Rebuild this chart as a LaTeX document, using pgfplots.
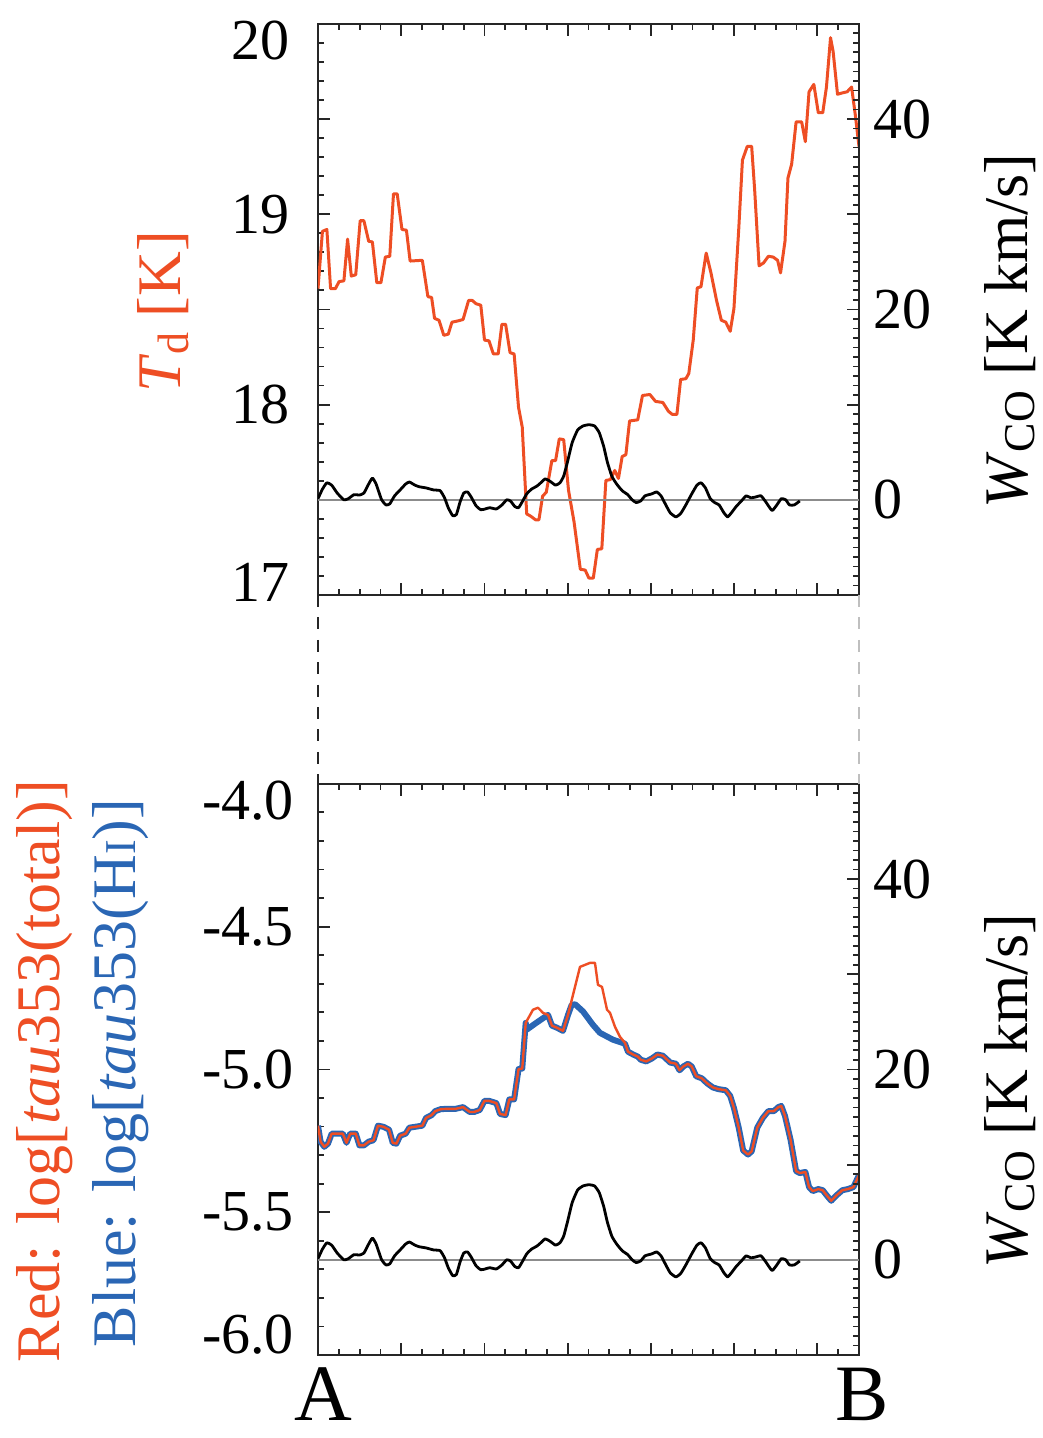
\documentclass[border=0pt]{standalone}
\usepackage{fontspec}
\setmainfont{Liberation Serif}
\usepackage{pgfplots}
\pgfplotsset{compat=1.18}
\definecolor{tdred}{RGB}{238,78,36}
\definecolor{tblue}{RGB}{42,102,180}
\pgfplotsset{
  panel/.style={scale only axis, width=135.25pt, height=142.8pt,
    xmin=0, xmax=130, xtick={0,20,...,120}, minor xtick={0,5,...,130}, xticklabels={},
    axis line style={line width=0.5pt, black!85},
    every tick/.append style={black!85, line width=0.45pt},
    major tick length=3pt, minor tick length=1.5pt, tick align=inside,
    ticklabel style={font=\fontsize{14.5}{17}\selectfont},
  },
  rightpanel/.style={panel, hide x axis, axis y line*=right, ymin=-10, ymax=50,
    ytick={-10,0,...,50}, yticklabels={,0,,20,,40,}, minor ytick={-10,-9,...,50},
    yticklabel style={xshift=0pt}},
}
\begin{document}
\begin{tikzpicture}
\useasboundingbox (-79.5pt,-210.75pt) rectangle (181pt,148.75pt);
% ---------------- top panel: Td ----------------
\begin{axis}[panel, at={(0,0)}, anchor=south west,
  ymin=17, ymax=20, ytick={17,17.5,...,20}, ytick pos=left,
  yticklabels={\raisebox{-1.6pt}[0pt][0pt]{17},,18,,19,,\raisebox{-9pt}[0pt][0pt]{20}},
  minor ytick={17,17.1,...,20},
  yticklabel style={xshift=-3.5pt}]
\addplot[tdred, line width=0.75pt, line join=round] coordinates {
(0,18.609)(1.067,18.910)(2.134,18.920)(3.023,18.609)(4.179,18.609)(5.068,18.646)(6.224,18.650)(7.114,18.869)(8.003,18.675)(9.07,18.682)(10.137,18.966)(11.026,18.966)(12.182,18.858)(13.071,18.854)(14.138,18.640)(15.116,18.640)(16.183,18.775)(17.25,18.779)(18.14,19.107)(19.03,19.107)(20.18,18.920)(21.25,18.916)(22.14,18.754)(25.07,18.758)(26.41,18.567)(27.30,18.563)(28.01,18.453)(29.08,18.443)(30.23,18.364)(31.30,18.370)(32.19,18.433)(33.52,18.439)(34.86,18.447)(36.19,18.547)(37.08,18.547)(37.97,18.530)(39.12,18.522)(40.01,18.339)(41.08,18.335)(42.15,18.266)(43.30,18.266)(44.19,18.422)(45.08,18.422)(46.15,18.273)(47.13,18.266)(48.19,17.986)(49.08,17.882)(50.15,17.426)(51.04,17.415)(52.28,17.395)(53.09,17.395)(53.97,17.519)(54.86,17.540)(56.20,17.706)(57.09,17.706)(57.98,17.820)(59.04,17.816)(60.20,17.550)(61.53,17.384)(63.04,17.135)(64.20,17.131)(65.09,17.089)(66.16,17.089)(67.13,17.239)(68.20,17.243)(69.18,17.602)(70.25,17.606)(71.31,17.654)(72.20,17.612)(73.09,17.727)(73.98,17.737)(74.87,17.914)(76.83,17.920)(77.98,18.048)(79.76,18.053)(81.10,18.017)(82.87,18.011)(84.21,17.965)(85.10,17.949)(86.25,17.949)(87.14,18.132)(88.39,18.136)(89.10,18.163)(90.17,18.339)(91.14,18.613)(92.03,18.619)(93.28,18.796)(94.43,18.692)(95.77,18.547)(96.92,18.443)(97.99,18.433)(99.06,18.385)(99.95,18.505)(101.10,18.920)(101.99,19.284)(103.15,19.356)(104.21,19.356)(104.93,19.128)(105.99,18.729)(107.06,18.744)(108.22,18.779)(109.37,18.775)(110.44,18.758)(111.15,18.692)(112.22,18.858)(112.93,19.190)(113.82,19.263)(114.89,19.485)(116.22,19.485)(117.11,19.381)(118.00,19.643)(119.15,19.682)(120.22,19.533)(121.29,19.533)(122.18,19.668)(123.16,19.927)(123.78,19.855)(124.84,19.630)(125.99,19.637)(127.16,19.643)(128.22,19.668)(129.11,19.522)(130.0,19.356)
};
\end{axis}
\begin{axis}[rightpanel, at={(0,0)}, anchor=south west]
\addplot[black!45, line width=0.35pt] coordinates {(0,0)(130,0)};
\addplot[black, line width=0.7pt, line join=round, smooth, tension=0.3] coordinates {
(0,0.12)(1.07,1.12)(2.13,1.79)(3.29,1.54)(4.62,0.71)(6.22,0)(7.29,0.12)(8.63,0.54)(9.96,0.50)(11.03,0.71)(12.18,1.66)(13.07,2.28)(13.96,1.66)(15.29,0)(16.36,-0.54)(17.25,-0.42)(18.41,0.42)(19.74,1.04)(21.07,1.66)(21.96,1.87)(23.30,1.54)(24.36,1.37)(25.96,1.25)(27.74,1.04)(29.35,0.96)(30.41,0.21)(31.30,-0.83)(32.37,-1.66)(33.26,-1.54)(34.15,-0.21)(35.03,0.71)(35.92,0.83)(36.81,0.29)(37.97,-0.62)(39.12,-1.04)(40.19,-0.96)(41.26,-0.83)(42.86,-0.96)(44.19,-0.54)(45.35,0)(46.24,-0.12)(47.31,-0.71)(48.19,-0.83)(49.08,-0.21)(50.15,0.62)(51.31,1.12)(52.64,1.45)(53.53,1.79)(54.60,2.20)(55.75,1.95)(57.09,1.54)(58.15,1.79)(59.04,2.49)(59.93,3.95)(61.09,6.02)(62.42,7.35)(63.76,7.77)(65.09,7.89)(66.43,7.77)(67.58,7.06)(68.65,5.61)(69.54,3.95)(70.60,2.49)(71.76,1.66)(73.09,0.96)(74.43,0.54)(75.49,0)(76.47,-0.29)(77.54,-0.12)(78.60,0.42)(80.20,0.62)(81.36,0.83)(82.43,0.42)(83.58,-0.54)(84.65,-1.37)(85.99,-1.79)(87.14,-1.45)(88.39,-0.54)(89.81,0.62)(91.06,1.54)(92.03,1.79)(93.10,1.25)(94.26,0.12)(95.32,-0.29)(96.39,-0.54)(97.55,-1.37)(98.44,-1.79)(99.33,-1.37)(100.48,-0.71)(101.99,0)(102.88,0.42)(104.04,0.21)(105.10,0.29)(106.44,0.42)(107.59,-0.21)(109.10,-1.12)(110.26,-0.54)(111.33,0.12)(112.40,0)(113.28,-0.54)(114.44,-0.54)(115.78,-0.12)
};
\end{axis}
% ---------------- bottom panel: tau ----------------
\begin{axis}[panel, at={(0,-190pt)}, anchor=south west,
  ymin=-6, ymax=-4, ytick={-6,-5.5,...,-4}, ytick pos=left,
  yticklabels={\raisebox{0.4pt}[0pt][0pt]{-6.0},-5.5,-5.0,-4.5,\raisebox{-9pt}[0pt][0pt]{-4.0}},
  minor ytick={-6,-5.9,...,-4},
  yticklabel style={xshift=-2.5pt}]
\addplot[tblue, line width=1.5pt, line join=round] coordinates {
(0,-5.197)(0.62,-5.253)(1.51,-5.271)(2.40,-5.260)(3.29,-5.225)(4.62,-5.225)(5.96,-5.225)(6.85,-5.257)(7.74,-5.225)(9.07,-5.225)(9.96,-5.266)(11.03,-5.266)(12.18,-5.253)(13.34,-5.248)(14.41,-5.197)(15.74,-5.201)(17.07,-5.211)(17.96,-5.257)(18.85,-5.260)(19.74,-5.232)(21.07,-5.225)(21.96,-5.204)(23.30,-5.201)(25.08,-5.197)(25.96,-5.170)(27.30,-5.160)(28.19,-5.146)(29.52,-5.139)(31.30,-5.138)(33.08,-5.138)(34.86,-5.132)(36.46,-5.149)(37.52,-5.149)(38.86,-5.142)(40.01,-5.110)(41.08,-5.110)(42.86,-5.118)(43.75,-5.156)(45.08,-5.160)(45.97,-5.105)(47.13,-5.105)(48.19,-4.999)(49.08,-4.997)(49.91,-4.837)(50.15,-4.861)(52.15,-4.840)(54.55,-4.816)(55.27,-4.809)(56.23,-4.847)(57.43,-4.854)(58.87,-4.865)(60.08,-4.809)(60.96,-4.774)(61.8,-4.772)(63.68,-4.797)(66.08,-4.844)(67.76,-4.872)(70.89,-4.896)(73.77,-4.910)(74.49,-4.938)(75.76,-4.948)(76.83,-4.955)(77.54,-4.966)(78.87,-4.972)(80.20,-4.962)(81.54,-4.948)(82.87,-4.952)(84.65,-4.976)(85.99,-4.980)(86.87,-5.003)(87.76,-4.990)(88.92,-4.980)(89.81,-4.990)(90.88,-5.024)(92.21,-5.031)(93.54,-5.049)(94.88,-5.063)(96.21,-5.069)(97.99,-5.073)(99.06,-5.093)(99.95,-5.135)(101.10,-5.204)(102.17,-5.284)(103.33,-5.298)(104.21,-5.287)(105.55,-5.204)(106.88,-5.170)(108.22,-5.146)(109.55,-5.146)(110.62,-5.132)(111.33,-5.128)(112.22,-5.163)(113.55,-5.246)(114.89,-5.356)(115.78,-5.363)(117.11,-5.359)(118.00,-5.412)(118.89,-5.426)(120.22,-5.419)(121.29,-5.423)(122.18,-5.440)(123.33,-5.460)(124.67,-5.440)(126.00,-5.423)(127.33,-5.419)(128.67,-5.412)(130,-5.370)
};
\addplot[tdred, line width=0.6pt, line join=round] coordinates {
(0,-5.197)(0.62,-5.253)(1.51,-5.271)(2.40,-5.260)(3.29,-5.225)(4.62,-5.225)(5.96,-5.225)(6.85,-5.257)(7.74,-5.225)(9.07,-5.225)(9.96,-5.266)(11.03,-5.266)(12.18,-5.253)(13.34,-5.248)(14.41,-5.197)(15.74,-5.201)(17.07,-5.211)(17.96,-5.257)(18.85,-5.260)(19.74,-5.232)(21.07,-5.225)(21.96,-5.204)(23.30,-5.201)(25.08,-5.197)(25.96,-5.170)(27.30,-5.160)(28.19,-5.146)(29.52,-5.139)(31.30,-5.138)(33.08,-5.138)(34.86,-5.132)(36.46,-5.149)(37.52,-5.149)(38.86,-5.142)(40.01,-5.110)(41.08,-5.110)(42.86,-5.118)(43.75,-5.156)(45.08,-5.160)(45.97,-5.105)(47.13,-5.105)(48.19,-4.999)(49.08,-4.997)(49.91,-4.837)(51.66,-4.791)(52.87,-4.784)(54.07,-4.802)(55.27,-4.809)(56.23,-4.847)(57.43,-4.854)(58.87,-4.865)(60.08,-4.809)(62.96,-4.641)(65.36,-4.627)(66.56,-4.627)(67.28,-4.704)(68.25,-4.711)(69.45,-4.791)(70.17,-4.802)(71.37,-4.851)(72.57,-4.886)(73.77,-4.907)(74.49,-4.938)(75.76,-4.948)(76.83,-4.955)(77.54,-4.966)(78.87,-4.972)(80.20,-4.962)(81.54,-4.948)(82.87,-4.952)(84.65,-4.976)(85.99,-4.980)(86.87,-5.003)(87.76,-4.990)(88.92,-4.980)(89.81,-4.990)(90.88,-5.024)(92.21,-5.031)(93.54,-5.049)(94.88,-5.063)(96.21,-5.069)(97.99,-5.073)(99.06,-5.093)(99.95,-5.135)(101.10,-5.204)(102.17,-5.284)(103.33,-5.298)(104.21,-5.287)(105.55,-5.204)(106.88,-5.170)(108.22,-5.146)(109.55,-5.146)(110.62,-5.132)(111.33,-5.128)(112.22,-5.163)(113.55,-5.246)(114.89,-5.356)(115.78,-5.363)(117.11,-5.359)(118.00,-5.412)(118.89,-5.426)(120.22,-5.419)(121.29,-5.423)(122.18,-5.440)(123.33,-5.460)(124.67,-5.440)(126.00,-5.423)(127.33,-5.419)(128.67,-5.412)(130,-5.370)
};
\end{axis}
\begin{axis}[rightpanel, at={(0,-190pt)}, anchor=south west]
\addplot[black!45, line width=0.35pt] coordinates {(0,0)(130,0)};
\addplot[black, line width=0.7pt, line join=round, smooth, tension=0.3] coordinates {
(0,0.12)(1.07,1.12)(2.13,1.79)(3.29,1.54)(4.62,0.71)(6.22,0)(7.29,0.12)(8.63,0.54)(9.96,0.50)(11.03,0.71)(12.18,1.66)(13.07,2.28)(13.96,1.66)(15.29,0)(16.36,-0.54)(17.25,-0.42)(18.41,0.42)(19.74,1.04)(21.07,1.66)(21.96,1.87)(23.30,1.54)(24.36,1.37)(25.96,1.25)(27.74,1.04)(29.35,0.96)(30.41,0.21)(31.30,-0.83)(32.37,-1.66)(33.26,-1.54)(34.15,-0.21)(35.03,0.71)(35.92,0.83)(36.81,0.29)(37.97,-0.62)(39.12,-1.04)(40.19,-0.96)(41.26,-0.83)(42.86,-0.96)(44.19,-0.54)(45.35,0)(46.24,-0.12)(47.31,-0.71)(48.19,-0.83)(49.08,-0.21)(50.15,0.62)(51.31,1.12)(52.64,1.45)(53.53,1.79)(54.60,2.20)(55.75,1.95)(57.09,1.54)(58.15,1.79)(59.04,2.49)(59.93,3.95)(61.09,6.02)(62.42,7.35)(63.76,7.77)(65.09,7.89)(66.43,7.77)(67.58,7.06)(68.65,5.61)(69.54,3.95)(70.60,2.49)(71.76,1.66)(73.09,0.96)(74.43,0.54)(75.49,0)(76.47,-0.29)(77.54,-0.12)(78.60,0.42)(80.20,0.62)(81.36,0.83)(82.43,0.42)(83.58,-0.54)(84.65,-1.37)(85.99,-1.79)(87.14,-1.45)(88.39,-0.54)(89.81,0.62)(91.06,1.54)(92.03,1.79)(93.10,1.25)(94.26,0.12)(95.32,-0.29)(96.39,-0.54)(97.55,-1.37)(98.44,-1.79)(99.33,-1.37)(100.48,-0.71)(101.99,0)(102.88,0.42)(104.04,0.21)(105.10,0.29)(106.44,0.42)(107.59,-0.21)(109.10,-1.12)(110.26,-0.54)(111.33,0.12)(112.40,0)(113.28,-0.54)(114.44,-0.54)(115.78,-0.12)
};
\end{axis}
% connecting dashed lines
\draw[black!85, line width=0.45pt, dash pattern=on 3pt off 2.6pt] (0,0) -- (0,-47.2pt);
\draw[black!25, line width=0.45pt, dash pattern=on 3pt off 2.6pt] (135.25pt,0) -- (135.25pt,-47.2pt);
% labels
\node[rotate=90, tdred, font=\fontsize{15.5}{18}\selectfont] at (-38.75pt,70.75pt)
  {\textit{T}\raisebox{-0.3ex}{\fontsize{11}{12}\selectfont d} [K]};
\node[rotate=90, tdred, font=\fontsize{15.5}{18}\selectfont] at (-68.25pt,-119pt)
  {Red: log[\textit{tau}353(total)]};
\node[rotate=90, tblue, font=\fontsize{15.5}{18}\selectfont] at (-49.25pt,-119.5pt)
  {Blue: log[\textit{tau}353(H{\fontsize{11}{12}\selectfont I})]};
\node[rotate=90, font=\fontsize{15.5}{18}\selectfont] at (173pt,66pt)
  {\textit{W}\raisebox{-0.25ex}{\fontsize{11}{12}\selectfont CO} [K km/s]};
\node[rotate=90, font=\fontsize{15.5}{18}\selectfont] at (173pt,-124pt)
  {\textit{W}\raisebox{-0.25ex}{\fontsize{11}{12}\selectfont CO} [K km/s]};
\node[font=\fontsize{20}{23}\selectfont, inner sep=0pt] at (1.25pt,-199.8pt) {A};
\node[font=\fontsize{20}{23}\selectfont, inner sep=0pt] at (136pt,-199.8pt) {B};
\end{tikzpicture}
\end{document}
